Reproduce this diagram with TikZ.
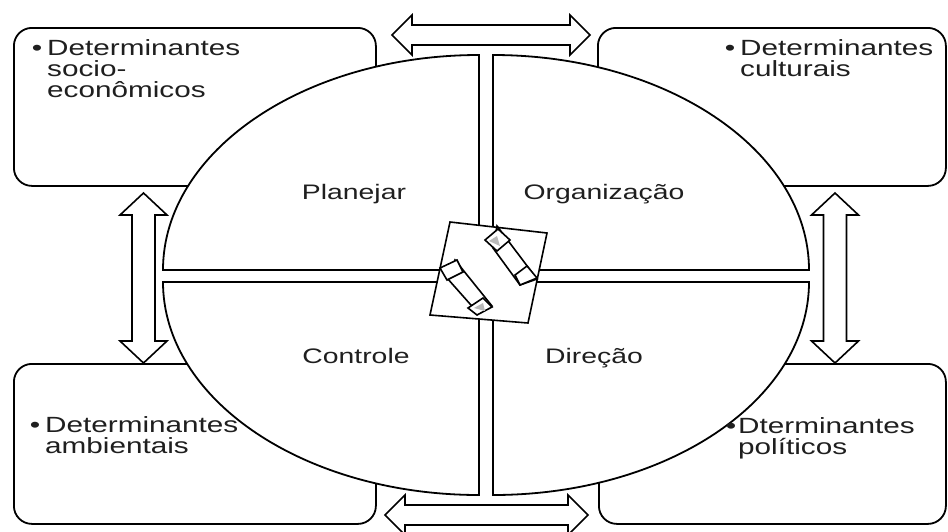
\documentclass[tikz,border=0pt]{standalone}
\usepackage{fontspec}
\setmainfont{Liberation Sans}[FakeStretch=1.35]
\usetikzlibrary{calc}

% horizontal double block arrow between two tip coordinates (same y)
\newcommand{\HDblArrow}[2]{%
  \draw[blockarrow] (#1) -- ($(#1)+(20,-20)$) -- ($(#1)+(20,-10)$)
    -- ($(#2)+(-20,-10)$) -- ($(#2)+(-20,-20)$) -- (#2)
    -- ($(#2)+(-20,20)$) -- ($(#2)+(-20,10)$)
    -- ($(#1)+(20,10)$) -- ($(#1)+(20,20)$) -- cycle;}
% vertical double block arrow between two tip coordinates (same x)
\newcommand{\VDblArrow}[2]{%
  \draw[blockarrow] (#1) -- ($(#1)+(23.5,22)$) -- ($(#1)+(11.5,22)$)
    -- ($(#2)+(11.5,-22)$) -- ($(#2)+(23.5,-22)$) -- (#2)
    -- ($(#2)+(-23.5,-22)$) -- ($(#2)+(-11.5,-22)$)
    -- ($(#1)+(-11.5,22)$) -- ($(#1)+(-23.5,22)$) -- cycle;}
% stacked lines with a fixed baseline distance; baseline of the first line
\newcommand{\lines}[1]{\vtop{\baselineskip=21pt\halign{##\hfil\cr#1\crcr}}}

\begin{document}
\begin{tikzpicture}[x=1pt,y=-1pt,line join=miter,
  frame/.style={draw=black,line width=1.8pt,fill=white,rounded corners=18pt},
  quad/.style={draw=black,line width=1.8pt,fill=white},
  blockarrow/.style={draw=black,line width=1.6pt,fill=white},
  hub/.style={draw=black,line width=1.6pt,fill=white},
  txt/.style={font=\fontsize{22}{21}\selectfont,inner sep=0pt,text=black!88},
  lbl/.style={font=\fontsize{21}{21}\selectfont,inner sep=0pt,text=black!88}]
\useasboundingbox (0,0) rectangle (948,531);

% the four corner boxes
\node[frame,anchor=north west,minimum width=362,minimum height=158] (boxTL) at (13,27) {};
\node[frame,anchor=north west,minimum width=348,minimum height=158] (boxTR) at (597,27) {};
\node[frame,anchor=north west,minimum width=362,minimum height=160] (boxBL) at (13,363) {};
\node[frame,anchor=north west,minimum width=347,minimum height=160] (boxBR) at (598,363) {};

% arrow tips
\coordinate (topL) at (392,35);
\coordinate (topR) at (590,35);
\coordinate (botL) at (385,515);
\coordinate (botR) at (588,515);
\coordinate (lefT) at (143.5,193);
\coordinate (lefB) at (143.5,363);
\coordinate (rigT) at (835,193);
\coordinate (rigB) at (835,363);

\HDblArrow{topL}{topR}
\HDblArrow{botL}{botR}
\VDblArrow{lefT}{lefB}
\VDblArrow{rigT}{rigB}

% the four quarters of the central wheel
\draw[quad] (479,270) -- (163,270) arc (180:270:316 and 215) -- cycle;
\draw[quad] (493,270) -- (809,270) arc (0:-90:316 and 215) -- cycle;
\draw[quad] (479,282) -- (163,282) arc (180:90:316 and 213) -- cycle;
\draw[quad] (493,282) -- (809,282) arc (0:90:316 and 213) -- cycle;

% hub with the two opposing arrows
\draw[hub] (450,222) -- (547,233) -- (528,323) -- (430,315) -- cycle;
\draw[hub] (497,226) -- (537,279) -- (520,285) -- (493,248) -- cycle;
\draw[hub] (455,260) -- (492,306) -- (478,313) -- (447,278) -- cycle;
\draw[hub] (485,240) -- (498,229) -- (510,240) -- (497,251) -- cycle;
\draw[hub] (515,275) -- (527,266) -- (537,278) -- (520,285) -- cycle;
\draw[hub] (440,268) -- (457,260) -- (463,272) -- (447,280) -- cycle;
\draw[hub] (468,308) -- (483,298) -- (492,307) -- (477,315) -- cycle;
\fill[gray!55] (489,241) -- (497,236) -- (500,246) -- cycle;
\fill[gray!55] (474,308) -- (483,303) -- (485,311) -- cycle;

% quarter labels
\node[lbl,anchor=base] (plan) at (354,199) {Planejar};
\node[lbl,anchor=base] (org)  at (604,199) {Organização};
\node[lbl,anchor=base] (ctrl) at (356,363) {Controle};
\node[lbl,anchor=base] (dir)  at (594,363) {Direção};

% box texts
\node[txt,anchor=base west] (tTL) at (47,55)  {\llap{•\hspace{5pt}}\lines{Determinantes\cr socio-\cr econômicos}};
\node[txt,anchor=base west] (tTR) at (740,55) {\llap{•\hspace{5pt}}\lines{Determinantes\cr culturais}};
\node[txt,anchor=base west] (tBL) at (45,432) {\llap{•\hspace{5pt}}\lines{Determinantes\cr ambientais}};
\node[txt,anchor=base west] (tBR) at (738,433) {\llap{•\hspace{2pt}}\lines{Dterminantes\cr políticos}};
\end{tikzpicture}
\end{document}
